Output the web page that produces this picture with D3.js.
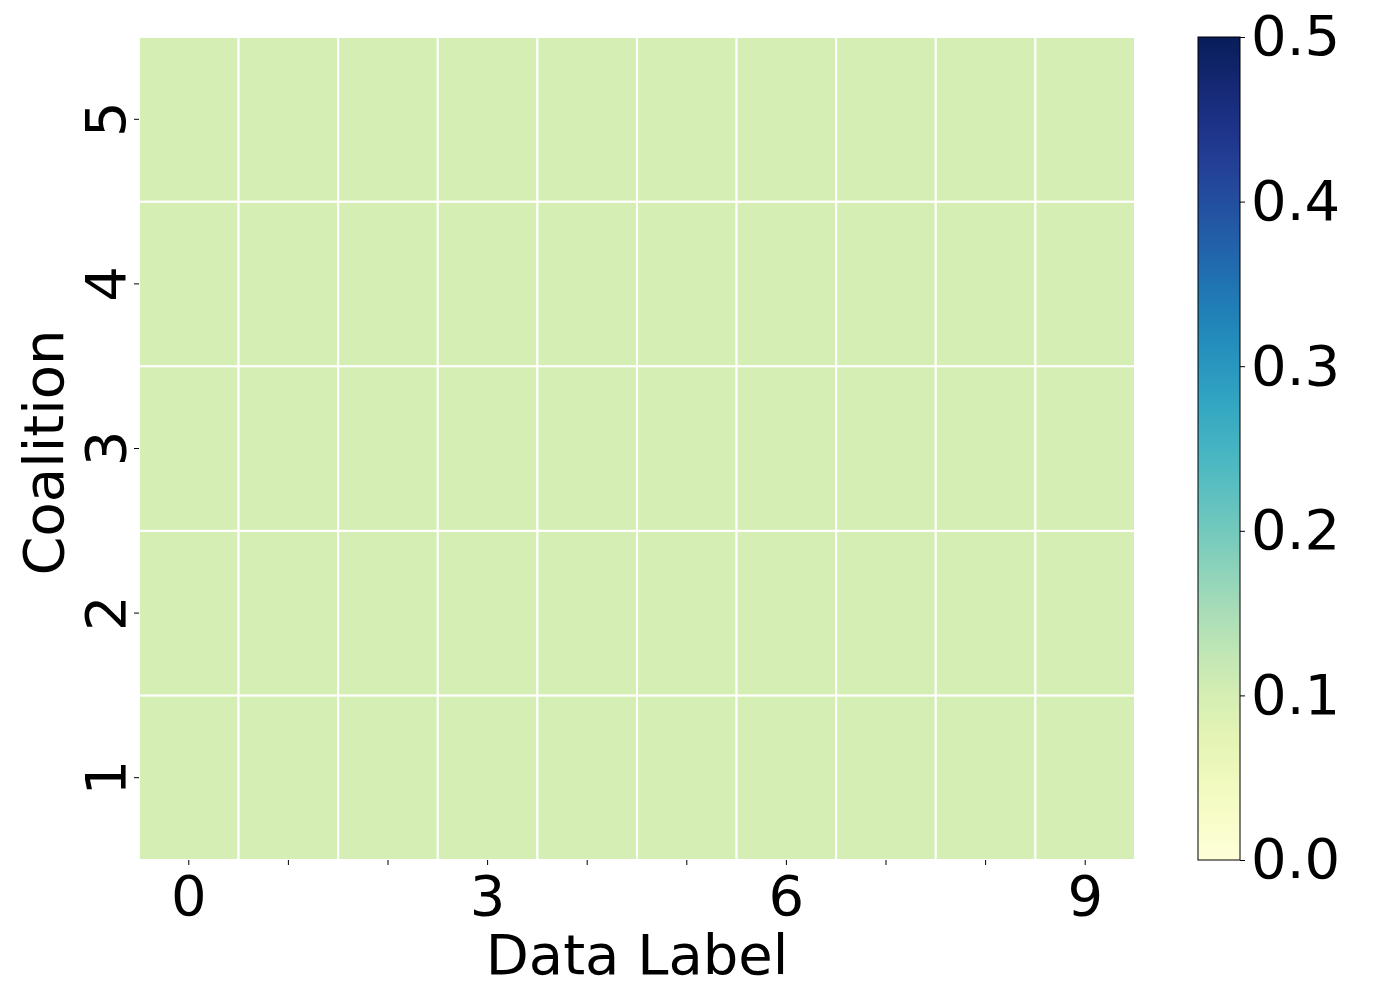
<!DOCTYPE html>
<html>
<head>
<meta charset="utf-8">
<script src="https://cdn.jsdelivr.net/npm/d3@7"></script>
<style>
  body { margin: 0; background: #fff; }
  text { font-family: "DejaVu Sans", sans-serif; fill: #000; }
</style>
</head>
<body>
<div id="chart"></div>
<script>
// data: share of each data label in each coalition
var labels = [0, 1, 2, 3, 4, 5, 6, 7, 8, 9];
var coalitions = [1, 2, 3, 4, 5];
var values = [
  [0.1, 0.1, 0.1, 0.1, 0.1, 0.1, 0.1, 0.1, 0.1, 0.1],
  [0.1, 0.1, 0.1, 0.1, 0.1, 0.1, 0.1, 0.1, 0.1, 0.1],
  [0.1, 0.1, 0.1, 0.1, 0.1, 0.1, 0.1, 0.1, 0.1, 0.1],
  [0.1, 0.1, 0.1, 0.1, 0.1, 0.1, 0.1, 0.1, 0.1, 0.1],
  [0.1, 0.1, 0.1, 0.1, 0.1, 0.1, 0.1, 0.1, 0.1, 0.1]
];
var xTickLabels = [0, 3, 6, 9];
var cbarTicks = [0, 0.1, 0.2, 0.3, 0.4, 0.5];

var width = 1400, height = 1000;
var fontSize = "56px";
var plot = {left: 139, top: 37, right: 1135, bottom: 860};

var svg = d3.select("#chart").append("svg")
    .attr("width", width)
    .attr("height", height);

var x = d3.scaleBand()
    .domain(labels)
    .range([plot.left, plot.right]);

var y = d3.scaleBand()
    .domain(coalitions.slice().reverse())
    .range([plot.top, plot.bottom]);

var color = d3.scaleSequential(d3.interpolateYlGnBu).domain([0, 0.5]);

var cells = [];
coalitions.forEach(function(c, i) {
    labels.forEach(function(l, j) {
        cells.push({coalition: c, label: l, value: values[i][j]});
    });
});

svg.append("g").selectAll("rect")
    .data(cells)
    .enter().append("rect")
    .attr("x", function(d) { return x(d.label); })
    .attr("y", function(d) { return y(d.coalition); })
    .attr("width", x.bandwidth())
    .attr("height", y.bandwidth())
    .attr("fill", function(d) { return color(d.value); })
    .attr("stroke", "#fff")
    .attr("stroke-width", 2);

// x axis
var xAxis = svg.append("g")
    .attr("transform", "translate(0," + plot.bottom + ")")
    .call(d3.axisBottom(x).tickSize(5).tickPadding(10)
        .tickFormat(function(d) { return xTickLabels.indexOf(d) >= 0 ? d : ""; }));
xAxis.select(".domain").remove();
xAxis.selectAll("text").style("font-size", fontSize).style("font-family", "DejaVu Sans");
xAxis.selectAll("line").attr("stroke", "#000").attr("stroke-width", 1);

// y axis, labels rotated
var yAxis = svg.append("g")
    .attr("transform", "translate(" + plot.left + ",0)")
    .call(d3.axisLeft(y).tickSize(5).tickPadding(0));
yAxis.select(".domain").remove();
yAxis.selectAll("line").attr("stroke", "#000");
yAxis.selectAll("text")
    .attr("x", null).attr("dy", null)
    .attr("text-anchor", "middle")
    .attr("transform", "translate(-14,0) rotate(-90)")
    .style("font-size", fontSize).style("font-family", "DejaVu Sans");

svg.append("text")
    .attr("x", (plot.left + plot.right) / 2)
    .attr("y", 974)
    .attr("text-anchor", "middle")
    .style("font-size", fontSize)
    .text("Data Label");

svg.append("text")
    .attr("transform", "translate(63," + ((plot.top + plot.bottom) / 2 + 4) + ") rotate(-90)")
    .attr("text-anchor", "middle")
    .style("font-size", fontSize)
    .text("Coalition");

// colorbar
var cb = {left: 1198, right: 1240, top: 37, bottom: 860};
var defs = svg.append("defs");
var grad = defs.append("linearGradient")
    .attr("id", "cbar")
    .attr("x1", 0).attr("y1", 1).attr("x2", 0).attr("y2", 0);
d3.range(0, 1.0001, 0.05).forEach(function(t) {
    grad.append("stop")
        .attr("offset", t)
        .attr("stop-color", d3.interpolateYlGnBu(t));
});
var cy = d3.scaleLinear().domain([0, 0.5]).range([cb.bottom, cb.top]);
svg.append("rect")
    .attr("x", cb.left).attr("y", cb.top)
    .attr("width", cb.right - cb.left).attr("height", cb.bottom - cb.top)
    .attr("fill", "url(#cbar)")
    .attr("stroke", "#000").attr("stroke-width", 1);

var cAxis = svg.append("g")
    .attr("transform", "translate(" + cb.right + ",0)")
    .call(d3.axisRight(cy).tickValues(cbarTicks).tickSize(5).tickPadding(6)
        .tickFormat(d3.format(".1f")));
cAxis.select(".domain").remove();
cAxis.selectAll("line").attr("stroke", "#000");
cAxis.selectAll("text").style("font-size", fontSize).style("font-family", "DejaVu Sans");
</script>
</body>
</html>
